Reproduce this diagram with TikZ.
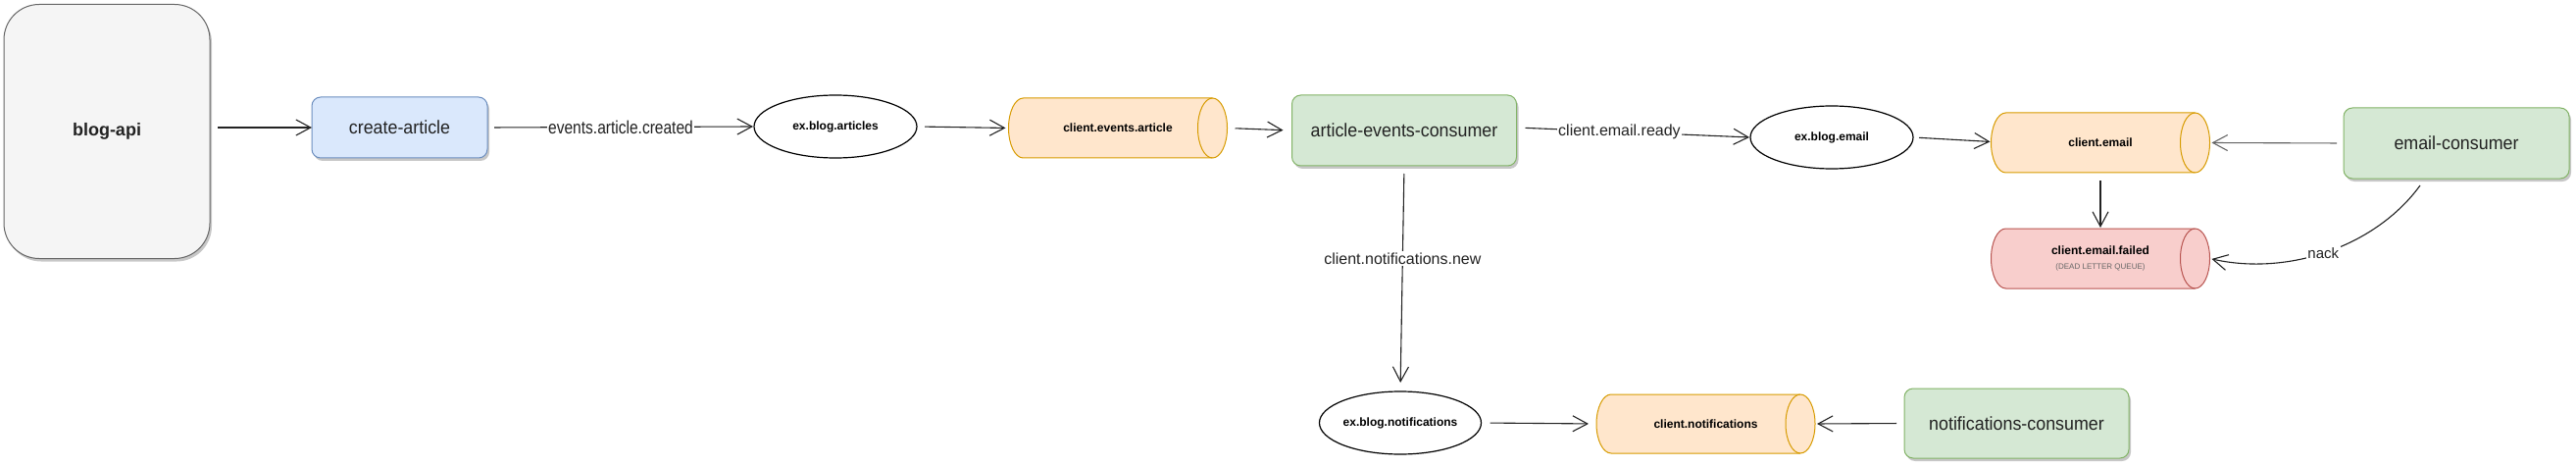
\documentclass[tikz,border=0pt]{standalone}
\usepackage{fontspec}
\setmainfont{Liberation Sans}
\newfontfamily\boxfont{Liberation Sans}[FakeStretch=0.94]
\newfontfamily\narrowfont{Liberation Sans}[FakeStretch=0.84]
\usetikzlibrary{arrows.meta,shadows,calc,shapes.geometric}
\pgfdeclarelayer{background}
\pgfsetlayers{background,main}
\definecolor{greyfill}{HTML}{F5F5F5}
\definecolor{greyline}{HTML}{666666}
\definecolor{bluefill}{HTML}{DAE8FC}
\definecolor{blueline}{HTML}{6C8EBF}
\definecolor{greenfill}{HTML}{D5E8D4}
\definecolor{greenline}{HTML}{82B366}
\definecolor{orangefill}{HTML}{FFE6CC}
\definecolor{orangeline}{HTML}{D79B00}
\definecolor{redfill}{HTML}{F8CECC}
\definecolor{redline}{HTML}{B85450}
\definecolor{inkline}{HTML}{222222}
\definecolor{dlq}{HTML}{666666}
% draw a horizontal cylinder around a named node: #1 node, #2 fill, #3 line, #4 half height
\newcommand{\drawcyl}[4]{%
  \begin{pgfonlayer}{background}
  \filldraw[fill=#2,draw=#3,line width=1pt]
    ($(#1.south west)+(15,0)$) arc[start angle=90,end angle=270,x radius=15,y radius=#4]
    -- ($(#1.north east)+(-15,0)$) arc[start angle=270,end angle=450,x radius=15,y radius=#4]
    -- cycle;
  \draw[draw=#3,line width=1pt]
    ($(#1.north east)+(-15,0)$) arc[start angle=270,end angle=90,x radius=15,y radius=#4];
  \end{pgfonlayer}}
\begin{document}
\begin{tikzpicture}[x=1pt,y=-1pt,
  shadowed/.style={drop shadow={shadow xshift=2pt,shadow yshift=-3pt,opacity=0.22,fill=black}},
  box/.style={rectangle,rounded corners=9pt,line width=1pt,inner sep=0pt,outer sep=0pt,
    font=\boxfont\fontsize{19}{22}\selectfont,text=inkline,shadowed},
  svc/.style={box,draw=greenline,fill=greenfill},
  exch/.style={ellipse,draw=black,line width=1.2pt,fill=white,inner sep=0pt,outer sep=0pt,
    minimum width=166pt,minimum height=64pt,font=\bfseries\fontsize{12}{14}\selectfont},
  queue/.style={rectangle,inner sep=0pt,outer sep=0pt,
    minimum width=223pt,minimum height=61pt,font=\bfseries\fontsize{12}{14}\selectfont},
  arr/.style={draw=inkline,line width=1.1pt,-{Straight Barb[length=15pt,width=16pt]}},
  lbl/.style={fill=white,inner sep=1.5pt,font=\fontsize{16}{19}\selectfont,text=inkline}
]
\useasboundingbox (0,0) rectangle (2627,476);

% nodes
\node[box,rounded corners=36pt,draw=greyline,fill=greyfill,minimum width=210pt,minimum height=259pt,
  font=\bfseries\fontsize{18}{21}\selectfont] (blog) at (109,134) {blog-api};
\node[box,draw=blueline,fill=bluefill,minimum width=179pt,minimum height=62pt] (create) at (407.5,130) {create-article};
\node[exch] (exart) at (852,129) {ex.blog.articles};
\node[queue] (qart) at (1140,130.5) {client.events.article};
\node[svc,minimum width=229pt,minimum height=72pt] (aec) at (1432,133) {article-events-consumer};
\node[exch] (exemail) at (1868,140) {ex.blog.email};
\node[queue] (qemail) at (2142,145.5) {client.email};
\node[svc,minimum width=230pt,minimum height=72pt] (emc) at (2505,146) {email-consumer};
\node[queue,align=center] (qfail) at (2142,263.5)
  {client.email.failed\\[1pt]{\mdseries\fontsize{8}{10}\selectfont\color{dlq}(DEAD LETTER QUEUE)}};
\node[exch,minimum width=165pt] (exnot) at (1428,431) {ex.blog.notifications};
\node[queue,minimum height=60pt] (qnot) at (1739.5,432) {client.notifications};
\node[svc,minimum width=229pt,minimum height=71pt] (notc) at (2056.5,431.5) {notifications-consumer};

\drawcyl{qart}{orangefill}{orangeline}{30.5}
\drawcyl{qemail}{orangefill}{orangeline}{30.5}
\drawcyl{qfail}{redfill}{redline}{30.5}
\drawcyl{qnot}{orangefill}{orangeline}{30}

\coordinate (nackstart) at ($(emc.south)+(-37,7)$);

% connectors
\draw[arr,shorten <=8pt] (blog.east|-create.west) -- (create.west);
\draw[arr,shorten <=7pt,shorten >=1pt] (create.east) -- (exart.west)
  node[lbl,midway,font=\narrowfont\fontsize{18.5}{21}\selectfont] {events.article.created};
\draw[arr,shorten <=8pt,shorten >=3pt] (exart.east) -- (qart.west);
\draw[arr,shorten <=8pt,shorten >=9pt] (qart.east) -- (aec.west);
\draw[arr,shorten <=9pt,shorten >=1pt] ([yshift=3pt]aec.east) -- (exemail.west)
  node[lbl,pos=0.44] {client.email.ready};
\draw[arr,shorten <=6pt,shorten >=1pt] (exemail.east) -- ([yshift=1pt]qemail.west);
\draw[arr,draw=greyline,shorten <=7pt,shorten >=2pt] (emc.west) -- (qemail.east);
\draw[arr,shorten <=8pt,shorten >=1pt] (qemail.south) -- (qfail.north);
\draw[arr,shorten >=2pt] (nackstart) .. controls ($(nackstart)+(-45,62)$) and ($(qfail.east)+(80,18)$) .. (qfail.east)
  node[lbl,pos=0.52,font=\fontsize{15}{18}\selectfont] {nack};
\draw[arr,shorten <=8pt,shorten >=9pt] (aec.south) -- (exnot.north)
  node[lbl,pos=0.41] {client.notifications.new};
\draw[arr,shorten <=9pt,shorten >=8pt] (exnot.east) -- (qnot.west);
\draw[arr,shorten <=8pt,shorten >=2pt] (notc.west) -- (qnot.east);
\end{tikzpicture}
\end{document}
